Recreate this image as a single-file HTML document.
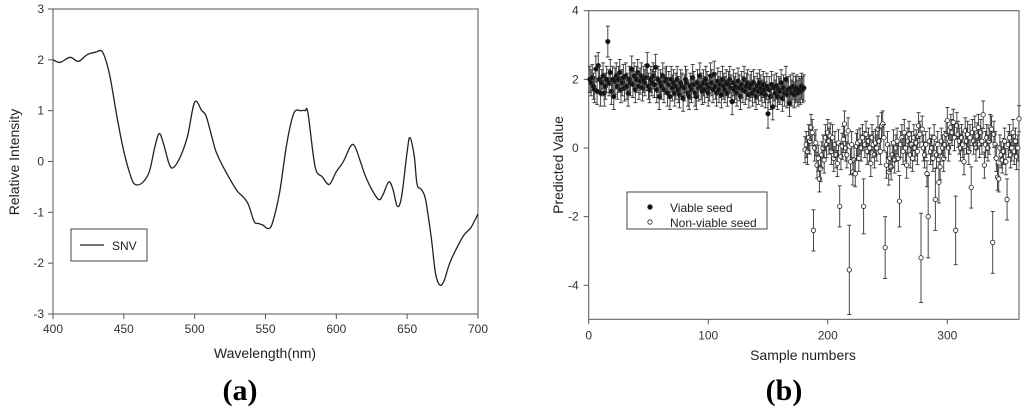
<!DOCTYPE html>
<html><head><meta charset="utf-8"><style>
html,body{margin:0;padding:0;background:#fff;}
svg{display:block;font-family:"Liberation Sans",Arial,sans-serif;}
</style></head><body>
<svg id="c" width="1024" height="415" viewBox="0 0 1024 415">
<g id="ga"></g>
<g id="gb"></g>
<text x="240" y="400" text-anchor="middle" font-family="Liberation Serif,serif" font-weight="bold" font-size="30">(a)</text>
<text x="784" y="400" text-anchor="middle" font-family="Liberation Serif,serif" font-weight="bold" font-size="30">(b)</text>
</svg>
<script>
// ---- Chart A data ----
const waveX = [400,405,412,418,424,430,435,440,445,450,455,458,463,468,472,475,478,482,485,490,495,500,505,508,512,515,520,525,530,535,538,542,545,548,552,555,560,565,570,575,578,580,585,590,595,600,605,610,613,617,620,625,630,633,637,640,643,646,650,652,655,657,660,663,667,670,673,676,680,685,690,695,700];
const snvY = [2.0,1.95,2.05,1.97,2.1,2.15,2.15,1.7,0.9,0.2,-0.3,-0.45,-0.42,-0.2,0.3,0.55,0.35,-0.05,-0.12,0.1,0.5,1.17,1.0,0.9,0.5,0.2,-0.1,-0.35,-0.58,-0.72,-0.85,-1.18,-1.22,-1.25,-1.32,-1.2,-0.6,0.35,0.95,1.0,1.0,0.95,-0.1,-0.3,-0.45,-0.2,0.0,0.3,0.3,0.0,-0.25,-0.55,-0.75,-0.65,-0.4,-0.55,-0.88,-0.7,0.2,0.47,0.1,-0.45,-0.55,-0.75,-1.5,-2.2,-2.43,-2.35,-2.0,-1.7,-1.45,-1.3,-1.03];
const aXTicks = [400,450,500,550,600,650,700];
const aYTicks = [3,2,1,0,-1,-2,-3];
// ---- Chart B data ----
const viableVals = [2.0,1.9,2.05,1.8,1.7,2.3,1.65,2.4,2.0,1.6,1.9,2.1,1.6,1.8,2.0,3.1,1.9,2.2,1.65,2.0,1.5,1.95,2.1,1.8,2.0,2.2,1.7,1.9,2.05,1.75,2.1,1.8,1.6,2.0,1.9,2.3,1.85,2.1,1.7,2.0,2.2,1.8,1.95,2.1,1.75,2.0,1.9,2.05,2.4,1.8,
1.7,2.0,1.9,2.1,1.85,2.35,1.7,2.0,1.5,1.9,1.8,2.1,1.7,1.95,2.0,1.6,1.85,1.5,2.0,1.75,1.9,1.6,1.8,2.0,1.7,1.55,1.9,1.8,1.45,1.75,2.0,1.9,1.6,1.5,1.8,1.7,2.05,1.85,1.6,1.5,1.9,1.75,2.1,1.8,1.65,1.9,1.7,2.0,1.85,1.6,
1.75,2.1,1.9,1.7,2.15,1.8,1.6,1.95,1.7,1.85,1.55,2.0,1.8,1.7,1.9,1.6,1.85,2.0,1.75,1.35,1.9,1.7,1.8,1.6,1.95,1.75,1.5,1.85,1.7,2.0,1.65,1.8,1.9,1.55,1.75,1.85,1.6,1.9,1.7,1.5,1.8,1.65,1.9,1.75,1.6,1.85,1.7,1.55,1.8,1.0,
1.7,1.5,1.85,1.2,1.75,1.6,1.8,1.5,1.7,1.65,1.9,1.45,1.75,1.6,2.0,1.55,1.7,1.3,1.75,1.6,1.8,1.55,1.7,1.75,1.6,1.7,1.65,1.8,1.7,1.75];
const nonViableVals = [-0.05,0.1,-0.1,0.3,0.2,0.6,0.45,-2.4,0.0,0.15,
-0.5,-0.3,-0.9,-0.6,-0.2,0.0,-0.35,0.3,0.1,0.45,
0.2,0.35,-0.1,0.3,-0.3,0.1,-0.2,-0.45,0.15,-1.7,
-0.25,0.05,0.25,0.7,0.0,-0.2,0.5,-3.55,-0.4,0.1,
-0.7,-0.35,-0.75,0.05,0.15,-0.3,0.2,0.0,0.3,-1.7,
0.1,0.4,-0.1,0.2,0.0,-0.45,0.3,0.1,-0.2,0.15,
0.0,0.55,0.2,-0.1,0.65,0.7,0.3,-2.9,-0.5,0.1,
-0.7,-0.3,-0.55,-0.2,0.15,-0.35,0.0,0.2,-0.3,-1.55,
0.1,0.3,-0.1,0.45,0.0,-0.5,0.2,0.4,-0.2,0.1,
-0.3,0.3,0.0,0.15,-0.1,0.65,0.4,-3.2,0.55,0.0,
-0.2,0.1,-0.75,-2.0,0.2,-0.1,0.0,-0.3,0.3,-1.5,
-0.2,0.1,-1.0,-0.55,0.2,0.0,-0.3,0.1,0.4,0.8,
0.0,0.2,0.6,0.45,0.75,0.3,-2.4,0.65,0.4,0.2,
0.0,0.3,0.1,-0.4,0.5,0.2,0.4,-0.1,0.3,-1.15,
0.45,0.2,0.55,0.0,0.35,0.6,0.1,0.45,0.2,0.97,
-0.5,0.1,0.3,0.0,0.2,0.6,0.55,-2.75,0.4,0.1,
-0.3,-0.85,-0.9,0.0,-0.2,-0.35,-0.1,0.2,-0.4,-1.5,
0.1,0.3,-0.2,0.0,0.45,-0.1,0.2,-0.25,0.0,0.85];
const defaultErr = 0.38;
const viableBigErrIdx = [15,149];
const viableBigErrVal = [0.45,0.42];
const nonBigErrIdx = [7,29,37,49,67,79,97,103,109,112,126,139,149,157,169];
const nonBigErrVal = [0.6,0.6,1.3,0.8,0.9,0.75,1.3,1.2,0.9,0.6,1.0,0.6,0.4,0.9,0.6];
const bXTicks = [0,100,200,300];
const bYTicks = [4,2,0,-2,-4];

const NS='http://www.w3.org/2000/svg';
function mk(parent,tag,attrs,txt){const e=document.createElementNS(NS,tag);for(const k in attrs)e.setAttribute(k,attrs[k]);if(txt!==undefined)e.textContent=txt;parent.appendChild(e);return e;}

// ---- Chart A ----
const ga=document.getElementById('ga');
const aL=53,aR=478,aT=9,aB=314;
const ax=v=>aL+(v-400)/300*(aR-aL);
const ay=v=>aT+(3-v)/6*(aB-aT);
let r=mk(ga,'rect',{x:aL,y:aT,width:aR-aL,height:aB-aT,fill:'none',stroke:'#555','stroke-width':1});


aXTicks.forEach(t=>{
  let l=mk(ga,'line',{x1:ax(t),x2:ax(t),y1:aB,y2:aB+5,stroke:'#555'});
  
  
  let tx=mk(ga,'text',{x:ax(t),y:aB+19,'text-anchor':'middle','font-size':12,fill:'#333'},t);
  
  
});
aYTicks.forEach(t=>{
  let l=mk(ga,'line',{x1:aL-5,x2:aL,y1:ay(t),y2:ay(t),stroke:'#555'});
  
  
  let tx=mk(ga,'text',{x:aL-9,y:ay(t)+4,'text-anchor':'end','font-size':12,fill:'#333'},t);
  
  
});
// smooth Catmull-Rom path
const pts=waveX.map((w,i)=>[ax(w),ay(snvY[i])]);
let d='M'+pts[0][0].toFixed(1)+','+pts[0][1].toFixed(1);
for(let i=0;i<pts.length-1;i++){
  const p0=pts[Math.max(0,i-1)],p1=pts[i],p2=pts[i+1],p3=pts[Math.min(pts.length-1,i+2)];
  const c1=[p1[0]+(p2[0]-p0[0])/6,p1[1]+(p2[1]-p0[1])/6];
  const c2=[p2[0]-(p3[0]-p1[0])/6,p2[1]-(p3[1]-p1[1])/6];
  d+='C'+c1[0].toFixed(1)+','+c1[1].toFixed(1)+' '+c2[0].toFixed(1)+','+c2[1].toFixed(1)+' '+p2[0].toFixed(1)+','+p2[1].toFixed(1);
}
let p=mk(ga,'path',{d:d,fill:'none',stroke:'#222','stroke-width':1.3,'stroke-linejoin':'round'});


let xt=mk(ga,'text',{x:265,y:358,'text-anchor':'middle','font-size':14,fill:'#222'},'Wavelength(nm)');


let yt=mk(ga,'text',{x:19,y:162,'text-anchor':'middle','font-size':14,fill:'#222',transform:'rotate(-90 19 162)'},'Relative Intensity');


let lg=mk(ga,'g',{});


mk(lg,'rect',{x:71,y:229,width:76,height:32,fill:'#fff',stroke:'#444'});
mk(lg,'line',{x1:80,x2:104,y1:245,y2:245,stroke:'#222','stroke-width':1.2});
let le=mk(lg,'text',{x:112,y:250,'font-size':12,fill:'#222'},'SNV');



// ---- Chart B ----
const gb=document.getElementById('gb');
const bL=588.7,bR=1019,bT=10.7,bB=319.3;
const bx=v=>bL+v*(947.3-588.7)/300;
const by=v=>148+(0-v)*(285.3-148)/4;
r=mk(gb,'rect',{x:bL,y:bT,width:bR-bL,height:bB-bT,fill:'none',stroke:'#555','stroke-width':1});


bXTicks.forEach(t=>{
  let l=mk(gb,'line',{x1:bx(t),x2:bx(t),y1:bB,y2:bB+5,stroke:'#555'});
  
  
  let tx=mk(gb,'text',{x:bx(t),y:bB+20,'text-anchor':'middle','font-size':12,fill:'#333'},t);
  
  
});
bYTicks.forEach(t=>{
  let l=mk(gb,'line',{x1:bL-5,x2:bL,y1:by(t),y2:by(t),stroke:'#555'});
  
  
  let tx=mk(gb,'text',{x:bL-10,y:by(t)+4,'text-anchor':'end','font-size':12,fill:'#333'},t);
  
  
});
function drawPoint(sample,val,err,filled,name){
  const g=mk(gb,'g',{});
  
  
  const x=bx(sample),y1=by(val+err),y2=by(val-err);
  mk(g,'line',{x1:x,x2:x,y1:y1,y2:y2,stroke:'#333','stroke-width':0.9});
  mk(g,'line',{x1:x-2,x2:x+2,y1:y1,y2:y1,stroke:'#333','stroke-width':0.9});
  mk(g,'line',{x1:x-2,x2:x+2,y1:y2,y2:y2,stroke:'#333','stroke-width':0.9});
  mk(g,'circle',{cx:x,cy:by(val),r:2.2,fill:filled?'#111':'#fff',stroke:'#222','stroke-width':0.8});
}
viableVals.forEach((v,i)=>{
  const k=viableBigErrIdx.indexOf(i);
  drawPoint(i+1,v,k>=0?viableBigErrVal[k]:defaultErr,true,'viable-point');
});
nonViableVals.forEach((v,i)=>{
  const k=nonBigErrIdx.indexOf(i);
  drawPoint(i+181,v,k>=0?nonBigErrVal[k]:defaultErr,false,'nonviable-point');
});
xt=mk(gb,'text',{x:803,y:360,'text-anchor':'middle','font-size':14,fill:'#222'},'Sample numbers');


yt=mk(gb,'text',{x:563,y:165,'text-anchor':'middle','font-size':14,fill:'#222',transform:'rotate(-90 563 165)'},'Predicted Value');


lg=mk(gb,'g',{});


mk(lg,'rect',{x:627,y:192,width:140,height:37,fill:'#fff',stroke:'#444'});
mk(lg,'circle',{cx:650,cy:207,r:2.2,fill:'#111',stroke:'#222'});
mk(lg,'circle',{cx:650,cy:222,r:2.2,fill:'#fff',stroke:'#222','stroke-width':0.8});
le=mk(lg,'text',{x:670,y:212,'font-size':12,fill:'#222'},'Viable seed');


le=mk(lg,'text',{x:670,y:227,'font-size':12,fill:'#222'},'Non-viable seed');


</script>
</body></html>
